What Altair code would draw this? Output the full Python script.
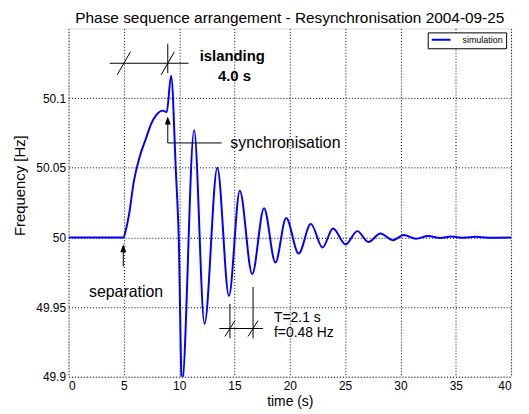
import altair as alt
import pandas as pd

# ---- simulated frequency trace (time in s, frequency in Hz)
time_s = [0, 4.95, 5.2, 5.5, 5.9, 6.4, 7.0, 7.5, 8.0, 8.5, 8.88, 9.27, 9.7, 9.96, 10.25,
          11.35, 12.29, 13.45, 14.5, 15.48, 16.6, 17.67, 18.7, 19.67, 20.8, 21.9, 22.96,
          23.9, 25.05, 26.1, 27.1, 28.2, 29.3, 30.3, 31.4, 32.5, 33.6, 34.6, 35.7, 36.8,
          37.9, 40]
freq_hz = [50.0, 50.0, 50.006, 50.018, 50.040, 50.057, 50.071, 50.082, 50.0885, 50.0910,
           50.0900, 50.116, 50.048, 50.0, 49.894, 50.077, 49.938, 50.050, 49.958, 50.0334,
           49.9737, 50.021, 49.982, 50.014, 49.9884, 50.0097, 49.9927, 50.0064, 49.995,
           50.0045, 49.9967, 50.0028, 49.998, 50.0017, 49.999, 50.001, 49.9995, 50.0006,
           49.9997, 50.0004, 49.9998, 50.0]

# ---- axis ticks
x_ticks = [0, 5, 10, 15, 20, 25, 30, 35, 40]
y_ticks = [49.9, 49.95, 50, 50.05, 50.1]

# ---- annotation line segments (data coordinates)
seg_t = [3.72, 8.97, 4.4, 8.37, 8.97, 8.97, 4.95, 14.59, 16.68, 13.63, 14.14, 16.23]
seg_f = [50.125, 50.139, 50.1167, 50.1167, 50.083, 50.0678, 49.99, 49.9523, 49.9644, 49.9346, 49.9289, 49.9289]
seg_t2 = [10.85, 8.97, 5.6, 9.57, 8.97, 13.84, 4.95, 14.59, 16.68, 17.58, 15.04, 17.13]
seg_f2 = [50.125, 50.118, 50.1333, 50.1333, 50.0678, 50.0678, 49.979, 49.9275, 49.9275, 49.9346, 49.9403, 49.9403]

# ---- arrow tips
arrow_t = [8.97, 4.95]
arrow_f = [50.0868, 49.995]

# ---- annotation texts
bold_text = ["islanding", "4.0 s"]
bold_t = [14.8, 15.0]
bold_f = [50.130, 50.116]

label_text = ["synchronisation"]
label_t = [14.62]
label_f = [50.0678]

sep_text = ["separation"]
sep_t = [5.2]
sep_f = [49.9607]

period_text = ["T=2.1 s", "f=0.48 Hz"]
period_t = [18.57, 18.57]
period_f = [49.9422, 49.931]

FONT = "Liberation Sans"

curve = pd.DataFrame({"t": time_s, "f": freq_hz, "series": "simulation"})
segs = pd.DataFrame({"t": seg_t, "f": seg_f, "t2": seg_t2, "f2": seg_f2})
arrows = pd.DataFrame({"t": arrow_t, "f": arrow_f})
bold_df = pd.DataFrame({"t": bold_t, "f": bold_f, "txt": bold_text})
label_df = pd.DataFrame({"t": label_t, "f": label_f, "txt": label_text})
sep_df = pd.DataFrame({"t": sep_t, "f": sep_f, "txt": sep_text})
period_df = pd.DataFrame({"t": period_t, "f": period_f, "txt": period_text})

xscale = alt.Scale(domain=[0, 40], nice=False, zero=False)
yscale = alt.Scale(domain=[49.9, 50.15], nice=False, zero=False)

xaxis = alt.Axis(values=x_ticks, title="time (s)", grid=True, gridDash=[1, 2],
                 gridColor="black", gridOpacity=1, ticks=False, domain=False,
                 labelFontSize=12, labelFont=FONT, labelPadding=4, labelColor="black",
                 titleFontSize=14, titleFont=FONT, titleFontWeight="normal",
                 titleColor="black", titlePadding=3)
yaxis = alt.Axis(values=y_ticks, title="Frequency [Hz]", format="~g", grid=True,
                 gridDash=[1, 2], gridColor="black", gridOpacity=1, ticks=False,
                 domain=False, labelFontSize=12, labelFont=FONT, labelPadding=3,
                 labelColor="black", titleFontSize=15, titleFont=FONT,
                 titleFontWeight="normal", titleColor="black", titleX=-49, titleY=158,
                 titleBaseline="middle")

X = alt.X("t:Q", scale=xscale, axis=xaxis)
Y = alt.Y("f:Q", scale=yscale, axis=yaxis)

line = alt.Chart(curve).mark_line(strokeWidth=2, interpolate="monotone", clip=True).encode(
    x=X, y=Y,
    color=alt.Color("series:N", scale=alt.Scale(domain=["simulation"], range=["#0000ff"]),
                    legend=alt.Legend(title=None, orient="none", legendX=362, legendY=4,
                                      fillColor="white", strokeColor="black",
                                      padding=3, symbolType="stroke", symbolSize=361,
                                      symbolStrokeWidth=2, labelFontSize=9, labelFont=FONT,
                                      labelOffset=11, clipHeight=9, labelColor="black",
                                      cornerRadius=0))
)

rules = alt.Chart(segs).mark_rule(color="black", strokeWidth=1).encode(
    x=X, y=Y, x2="t2:Q", y2="f2:Q")

heads = alt.Chart(arrows).mark_point(shape="M0,0L-1.5,4L1.5,4Z", size=16, filled=True,
                                     color="black", opacity=1).encode(x=X, y=Y)

bold = alt.Chart(bold_df).mark_text(font=FONT, fontSize=15, fontWeight="bold",
                                    align="center", baseline="middle", color="black").encode(
    x=X, y=Y, text="txt:N")
sync = alt.Chart(label_df).mark_text(font=FONT, fontSize=16, align="left",
                                     baseline="middle", color="black").encode(
    x=X, y=Y, text="txt:N")
sep = alt.Chart(sep_df).mark_text(font=FONT, fontSize=16, align="center",
                                  baseline="middle", color="black").encode(
    x=X, y=Y, text="txt:N")
period = alt.Chart(period_df).mark_text(font=FONT, fontSize=14, align="left",
                                        baseline="middle", color="black").encode(
    x=X, y=Y, text="txt:N")

chart = alt.layer(line, rules, heads, bold, sync, sep, period).properties(
    width=446, height=351,
    autosize="none",
    padding={"left": 61, "top": 19, "right": 10, "bottom": 36},
    title=alt.TitleParams("Phase sequence arrangement - Resynchronisation 2004-09-25",
                          fontSize=15.5, font=FONT, fontWeight="normal", anchor="middle",
                          frame="group", baseline="bottom", offset=6, dy=19,
                          color="black"),
).configure_view(stroke="black", strokeWidth=1.5).configure(background="white")

chart.save("out.html", embed_options={"renderer": "svg", "actions": False})
